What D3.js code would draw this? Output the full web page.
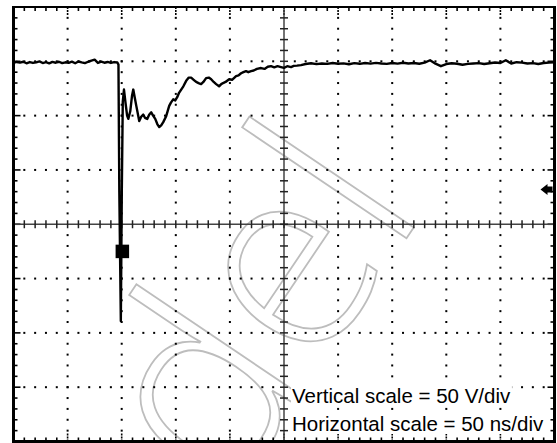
<!DOCTYPE html>
<html><head><meta charset="utf-8">
<script src="https://cdn.jsdelivr.net/npm/d3@7"></script>
<style>html,body{margin:0;padding:0;background:#fff}svg{display:block}</style>
</head><body><svg id="c" width="557" height="443"></svg>
<script>
// ---- data (time in ns, voltage in V) ----
const timeNs = [0,3,6,9,12,15,18,21,24,27,30,33,36,39,42,45,48,51,54,57,60,63,66,69,72,75,78,81,84,87,90,93,96,
  97.0,97.8,99.2,100.1,101.0,102.1,103.5,105.0,106.1,107.9,109.5,110.7,112.0,113.5,116.2,118.0,119.9,121.5,123.6,125.5,127.3,129.0,131.0,133.0,134.7,136.5,138.4,141.1,143.9,145.5,147.6,149.5,151.3,153,155,157,159.6,162,164.2,166.5,168.8,171,173.4,175.5,178,180.5,182.7,185,187.3,190,192,193.7,196,199.3,202,205.7,208,210.3,212.5,214.9,217,219.6,222,225,228.8,232,235,238,241,244,247.2,250,253,256.5,259,262,265.7,
  270,275,280,285,290,295,300,305,310,315,320,325,330,335,340,345,350,355,360,365,370,375,380,385,390,395,400,405,410,415,420,425,430,435,440,445,450,455,460,465,470,475,480,485,490,495,500];
const volts = [148.6,149.4,148.8,149.6,148.2,149.3,148.5,149.1,149.9,148.4,149.2,148.1,149.5,148.7,149.6,148.3,149.1,148.6,149.7,148.2,149.8,149.0,148.3,149.6,150.6,151.5,148.5,149.8,148.7,149.4,148.5,149.3,148.9,
  147,30,-89,30,113,124,112,100,97,104,118,124,117,109,95,99,101,98,97,101,103,100,97,92,89.5,91,94,99.5,109,112,115,114,117,121,124,127,132,135,135,133,131,130,129,131,134.5,135,133.5,131,129,127,129,130,131,133.5,133,136.4,137,139,140,141,140,141,141.5,143,143.8,143,145,145.6,144.5,145.5,144.7,144,145.5,144.7,145.8,146,146.5,
  147.5,148.2,147.4,148.0,147.6,148.4,147.8,148.1,147.3,148.3,147.7,148.5,147.9,148.6,148.0,147.6,148.4,147.9,148.7,148.0,148.4,147.8,148.8,151,147.8,145.5,147.5,148.2,147.8,146.8,147.6,148.0,148.3,147.5,148.2,148.9,148.4,151,148.0,149.2,148.8,148.0,148.3,147.5,148.4,148.8,149.2];
const markerT = [100.6], markerV = [-25];       // cursor marker
const triggerV = [32];                           // trigger level arrow
const xDivs = d3.range(0, 501, 50);              // 50 ns/div
const yDivs = d3.range(-200, 201, 50);           // 50 V/div
const labels = ["Vertical scale = 50 V/div", "Horizontal scale = 50 ns/div"];
const watermark = "Model";

const svg = d3.select("#c");
svg.append("rect").attr("width",557).attr("height",443).attr("fill","#fff");
const x = d3.scaleLinear().domain([0,500]).range([13.5,554.5]);
const y = d3.scaleLinear().domain([-200,200]).range([441.5,7]);

// watermark (outlined, rotated)
(function(){
  const fam = "'Open Sans', 'Liberation Sans', Arial, sans-serif", wt = 300, ang = -56;
  const ctx = document.createElement("canvas").getContext("2d");
  const wg = svg.append("g");
  const t = wg.append("text").attr("x",0).attr("y",0).attr("font-family",fam).attr("font-weight",wt)
    .attr("fill","none").attr("stroke","#bdbdbd").attr("stroke-width",1.8).text(watermark);
  function geom(F){
    t.attr("font-size",F+"px");
    ctx.font = `${wt} ${F}px ${fam}`;
    const ml = ctx.measureText("l"), md = ctx.measureText("d");
    const lL = -ml.actualBoundingBoxLeft, lR = ml.actualBoundingBoxRight, sw = lR-lL;
    const iL = watermark.lastIndexOf("l"), iD = watermark.indexOf("d");
    const lC = t.node().getStartPositionOfChar(iL).x + (lL+lR)/2;
    const dC = t.node().getStartPositionOfChar(iD).x + md.actualBoundingBoxRight - sw/2;
    return {dist: lC-dC, lC, lTop: -ml.actualBoundingBoxAscent};
  }
  let F = 200; const g0 = geom(F); F = F*202/g0.dist; const gm = geom(F);
  const c = Math.cos(ang*Math.PI/180), s = Math.sin(ang*Math.PI/180);
  const rx = gm.lC*c - gm.lTop*s, ry = gm.lC*s + gm.lTop*c;
  wg.attr("transform",`translate(${244-rx},${122-ry}) rotate(${ang})`);
})();

const g = svg.append("g");
// dotted grid
const minorY = d3.range(-190,191,10), minorX = d3.range(10,491,10);
xDivs.filter(d=>d>0&&d<500&&d!==250).forEach(t=>{
  g.selectAll(null).data(minorY.filter(v=>v!==0)).enter().append("rect")
   .attr("x",x(t)-1).attr("y",v=>y(v)-1).attr("width",2).attr("height",2).attr("fill","#000");
});
yDivs.filter(d=>d>-200&&d<200&&d!==0).forEach(v=>{
  g.selectAll(null).data(minorX.filter(t=>t!==250)).enter().append("rect")
   .attr("x",t=>x(t)-1).attr("y",y(v)-1).attr("width",2).attr("height",2).attr("fill","#000");
});
// border ticks
minorX.forEach(t=>{
  const maj = t%50===0;
  const L = maj?8:4;
  g.append("line").attr("x1",x(t)).attr("x2",x(t)).attr("y1",y(200)).attr("y2",y(200)+L).attr("stroke","#000").attr("stroke-width",1.6).attr("stroke-dasharray",maj?"2,1":null);
  g.append("line").attr("x1",x(t)).attr("x2",x(t)).attr("y1",y(-200)).attr("y2",y(-200)-L).attr("stroke","#000").attr("stroke-width",1.6).attr("stroke-dasharray",maj?"2,1":null);
});
minorY.forEach(v=>{
  const maj = v%50===0;
  const L = maj?7:4;
  g.append("line").attr("y1",y(v)).attr("y2",y(v)).attr("x1",x(0)).attr("x2",x(0)+L).attr("stroke","#000").attr("stroke-width",1.6);
  g.append("line").attr("y1",y(v)).attr("y2",y(v)).attr("x1",x(500)).attr("x2",x(500)-L).attr("stroke","#000").attr("stroke-width",1.6);
});
// center axes
g.append("line").attr("x1",x(0)).attr("x2",x(500)).attr("y1",y(0)).attr("y2",y(0)).attr("stroke","#444").attr("stroke-width",1.5);
g.append("line").attr("x1",x(250)).attr("x2",x(250)).attr("y1",y(200)).attr("y2",y(-200)).attr("stroke","#444").attr("stroke-width",1.5);
minorX.forEach(t=>{
  g.append("line").attr("x1",x(t)).attr("x2",x(t)).attr("y1",y(0)-4).attr("y2",y(0)+4).attr("stroke","#222").attr("stroke-width",1.5);
});
minorY.forEach(v=>{
  g.append("line").attr("y1",y(v)).attr("y2",y(v)).attr("x1",x(250)-4).attr("x2",x(250)+4).attr("stroke","#222").attr("stroke-width",1.5);
});
// frame
g.append("line").attr("x1",x(0)).attr("x2",x(0)).attr("y1",6).attr("y2",443).attr("stroke","#000").attr("stroke-width",3);
g.append("line").attr("x1",x(500)).attr("x2",x(500)).attr("y1",6).attr("y2",443).attr("stroke","#000").attr("stroke-width",3);
g.append("line").attr("x1",12).attr("x2",556).attr("y1",y(200)).attr("y2",y(200)).attr("stroke","#000").attr("stroke-width",2);
g.append("line").attr("x1",12).attr("x2",556).attr("y1",y(-200)).attr("y2",y(-200)).attr("stroke","#000").attr("stroke-width",3);

// trace
const pts = timeNs.map((t,i)=>[t,volts[i]]);
svg.append("path").datum(pts).attr("fill","none").attr("stroke","#000").attr("stroke-width",2.4)
  .attr("stroke-linejoin","round").attr("d",d3.line().x(d=>x(d[0])).y(d=>y(d[1])));
// marker
svg.selectAll(".mk").data(markerT).enter().append("rect").attr("class","mk")
  .attr("x",(d,i)=>x(d)-6.75).attr("y",(d,i)=>y(markerV[i])-6.75).attr("width",13.5).attr("height",13.5).attr("fill","#000");
// trigger arrow
triggerV.forEach(v=>{
  const yy=y(v), xr=x(500)-2;
  svg.append("path").attr("fill","#000")
    .attr("d",`M${xr-12},${yy} L${xr-5},${yy-5.5} L${xr-5},${yy-3} L${xr},${yy-3} L${xr},${yy+3} L${xr-5},${yy+3} L${xr-5},${yy+5.5} Z`);
});
// labels
const base = [402.5, 431];
labels.forEach((s,i)=>{
  const tg = svg.append("g");
  const t = tg.append("text").attr("x",292).attr("y",base[i]).attr("font-family","'Liberation Sans', Arial, sans-serif")
    .attr("font-size","20.5px").attr("fill","#000").text(s);
  const b = t.node().getBBox();
  tg.insert("rect","text").attr("x",b.x-1).attr("y",b.y+2).attr("width",b.width+2).attr("height",b.height-3).attr("fill","#fff");
});
</script></body></html>
